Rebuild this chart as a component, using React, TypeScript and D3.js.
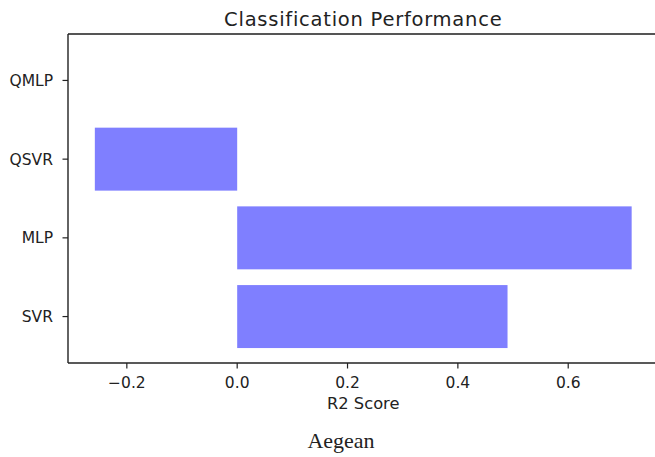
import React from "react";
import * as d3 from "d3";

// Model names (bottom to top) and their R2 scores
const categories: string[] = ["SVR", "MLP", "QSVR", "QMLP"];
const scores: number[] = [0.49, 0.715, -0.258, 0.0];
const xTickValues: number[] = [-0.2, 0.0, 0.2, 0.4, 0.6];

const W = 655;
const H = 457;
const plot = { left: 68, right: 658.5, top: 34, bottom: 363 };
const barHeight = 0.8;
const FONT = "'DejaVu Sans', sans-serif";

export default function App() {
  // x domain with a 5% margin around the data (and zero)
  const lo = Math.min(0, d3.min(scores) as number);
  const hi = Math.max(0, d3.max(scores) as number);
  const pad = (hi - lo) * 0.05;
  const x = d3.scaleLinear().domain([lo - pad, hi + pad]).range([plot.left, plot.right]);

  // y: category index, with the bars' half-heights plus a 5% margin
  const yLo = -barHeight / 2;
  const yHi = categories.length - 1 + barHeight / 2;
  const yPad = (yHi - yLo) * 0.05;
  const y = d3.scaleLinear().domain([yLo - yPad, yHi + yPad]).range([plot.bottom, plot.top]);

  const fmt = (v: number) => d3.format(".1f")(v).replace("-", "\u2212");
  const cx = (plot.left + plot.right) / 2;

  return (
    <svg
      width={W}
      height={H}
      style={{ position: "absolute", left: 0, top: 0, background: "#fff" }}
      fontFamily={FONT}
    >
      <rect x={0} y={0} width={W} height={H} fill="#fff" />

      {/* bars */}
      {scores.map((v, i) => (
        <rect
          key={categories[i]}
          x={Math.min(x(0), x(v))}
          width={Math.abs(x(v) - x(0))}
          y={y(i + barHeight / 2)}
          height={y(i - barHeight / 2) - y(i + barHeight / 2)}
          fill="#7f7fff"
        />
      ))}

      {/* spines */}
      <line x1={plot.left} x2={plot.right} y1={plot.top} y2={plot.top} stroke="#555" strokeWidth={2} />
      <line x1={plot.left} x2={plot.right} y1={plot.bottom} y2={plot.bottom} stroke="#222" strokeWidth={1.4} />
      <line x1={plot.left} x2={plot.left} y1={plot.top} y2={plot.bottom} stroke="#222" strokeWidth={1.4} />

      {/* x ticks */}
      {xTickValues.map((t) => (
        <g key={t} transform={`translate(${x(t)},${plot.bottom})`}>
          <line y1={0} y2={5.5} stroke="#222" strokeWidth={1.2} />
          <text y={25} textAnchor="middle" fontSize={15.5} fill="#222">
            {fmt(t)}
          </text>
        </g>
      ))}

      {/* y ticks */}
      {categories.map((c, i) => (
        <g key={c} transform={`translate(${plot.left},${y(i)})`}>
          <line x1={0} x2={-5.5} stroke="#222" strokeWidth={1.2} />
          <text x={-15} dy="0.36em" textAnchor="end" fontSize={15.5} fill="#222">
            {c}
          </text>
        </g>
      ))}

      {/* labels */}
      <text x={cx} y={409} textAnchor="middle" fontSize={16.3} fill="#222">
        R2 Score
      </text>
      <text x={cx} y={26} textAnchor="middle" fontSize={19.5} letterSpacing={0.75} fill="#222">
        Classification Performance
      </text>
      <text
        x={341}
        y={447.5}
        textAnchor="middle"
        fontSize={22}
        fill="#222"
        fontFamily="'Liberation Serif', 'Times New Roman', serif"
      >
        Aegean
      </text>
    </svg>
  );
}
